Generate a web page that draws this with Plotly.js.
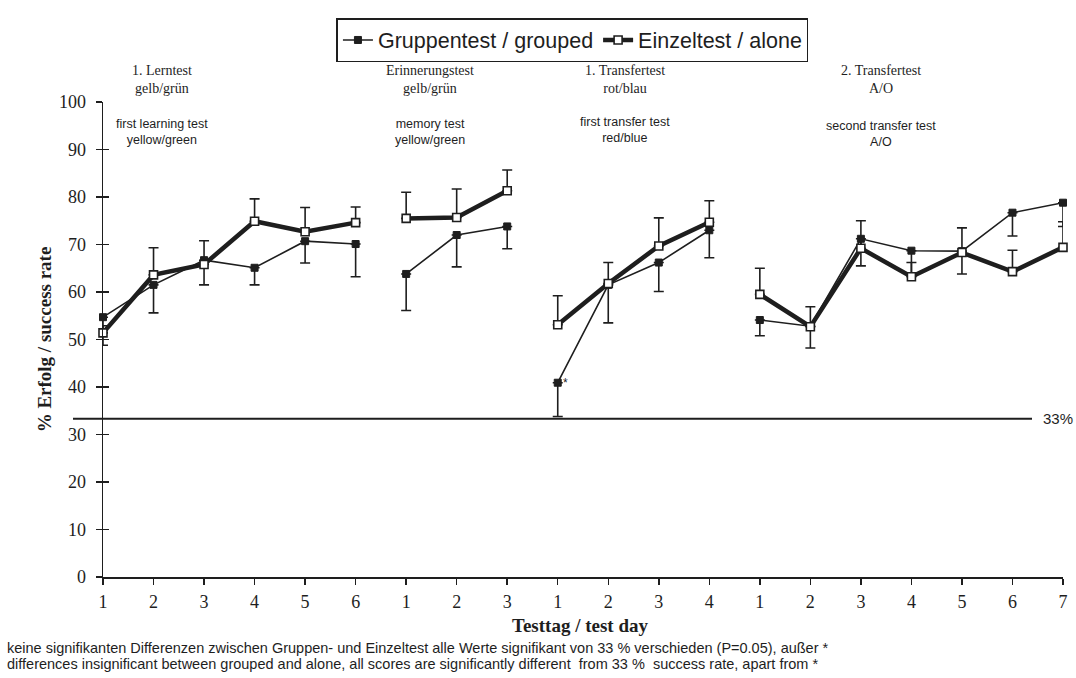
<!DOCTYPE html>
<html>
<head>
<meta charset="utf-8">
<script src="https://cdn.plot.ly/plotly-3.0.1.min.js"></script>
<style>html,body{margin:0;padding:0;background:#fff;}#chart{width:1076px;height:678px;}</style>
</head>
<body>
<div id="chart"></div>
<script>
// ---- data ----
const dayLabels = ['1','2','3','4','5','6','1','2','3','1','2','3','4','1','2','3','4','5','6','7'];
const segmentLengths = [6, 3, 4, 7];
const groupedVals      = [54.7,61.5,66.7,65.1,70.7,70.1, 63.8,72.0,73.8, 40.9,61.5,66.2,73.0, 54.1,52.8,71.2,68.7,68.6,76.7,78.8];
const groupedErrMinus  = [5.9,5.9,5.2,3.6,4.6,6.9, 7.7,6.7,4.7, 7.1,8.0,6.1,5.8, 3.3,4.6,5.7,5.2,4.8,4.9,5.0];
const aloneVals        = [51.4,63.6,65.8,74.9,72.7,74.6, 75.5,75.7,81.3, 53.1,61.8,69.7,74.7, 59.5,52.7,69.2,63.2,68.3,64.3,69.4];
const aloneErrPlus     = [1.5,5.7,5.0,4.7,5.1,3.3, 5.5,6.0,4.4, 6.1,4.4,5.9,4.5, 5.5,4.2,5.8,3.0,5.2,4.5,5.4];
const chanceLevel = 33.3;
const significanceMarked = [9]; // index of value not significantly different from 33 %
const seriesNames = ['Gruppentest / grouped', 'Einzeltest / alone'];
const blockTitlesDe = ['1. Lerntest<br>gelb/grün', 'Erinnerungstest<br>gelb/grün', '1. Transfertest<br>rot/blau', '2. Transfertest<br>A/O'];
const blockTitlesEn = ['first learning test<br>yellow/green', 'memory test<br>yellow/green', 'first transfer test<br>red/blue', 'second transfer test<br>A/O'];
const footnoteLines = [
  'keine signifikanten Differenzen zwischen Gruppen- und Einzeltest alle Werte signifikant von 33 % verschieden (P=0.05), außer *',
  'differences insignificant between grouped and alone, all scores are significantly different  from 33 %  success rate, apart from *'
];

// ---- build gapped arrays (break line between test blocks) ----
function gapped(arr) {
  const out = []; let k = 0;
  segmentLengths.forEach((len, s) => {
    if (s > 0) out.push(null);
    for (let i = 0; i < len; i++) out.push(arr[k++]);
  });
  return out;
}
const idx = dayLabels.map((_, i) => i);
const xG = gapped(idx);
const zeros = groupedVals.map(() => 0);

const ink = '#1e1e1e';
const traces = [
  {
    x: xG, y: gapped(groupedVals), name: seriesNames[0], type: 'scatter', mode: 'lines+markers',
    line: {color: ink, width: 1.6},
    marker: {symbol: 'square', size: 7, color: ink, line: {color: ink, width: 1}},
    error_y: {type: 'data', symmetric: false, array: gapped(zeros), arrayminus: gapped(groupedErrMinus), color: ink, thickness: 1.6, width: 5},
    connectgaps: false, cliponaxis: false
  },
  {
    x: xG, y: gapped(aloneVals), name: seriesNames[1], type: 'scatter', mode: 'lines+markers',
    line: {color: ink, width: 4.5},
    marker: {symbol: 'square', size: 8, color: '#ffffff', line: {color: ink, width: 1.6}},
    error_y: {type: 'data', symmetric: false, array: gapped(aloneErrPlus), arrayminus: gapped(zeros), color: ink, thickness: 1.6, width: 5},
    connectgaps: false, cliponaxis: false
  },
  {x: [null], y: [null], xaxis: 'x', yaxis: 'y2', mode: 'markers', marker: {opacity: 0}, showlegend: false, hoverinfo: 'skip', type: 'scatter'}
];

// ---- annotations ----
const blockX = [1.17, 6.48, 10.34, 15.39];
const annotations = [];
blockTitlesDe.forEach((t, i) => annotations.push({
  text: t, xref: 'x', x: blockX[i], yref: 'paper', y: (577 - 79) / 475, showarrow: false,
  xanchor: 'center', yanchor: 'middle', font: {family: 'Liberation Serif, Times New Roman, serif', size: 14, color: ink}
}));
blockTitlesEn.forEach((t, i) => annotations.push({
  text: t, xref: 'x', x: blockX[i], yref: 'paper', y: (577 - [132,132,130,134][i]) / 475, showarrow: false,
  xanchor: 'center', yanchor: 'middle', font: {family: 'Liberation Sans, Arial, sans-serif', size: 12.5, color: ink}
}));
significanceMarked.forEach(i => annotations.push({
  text: '*', x: i, y: groupedVals[i], xref: 'x', yref: 'y', showarrow: false, xshift: 8, yshift: 0,
  font: {family: 'Liberation Sans, Arial, sans-serif', size: 12, color: ink}
}));
annotations.push({
  text: Math.round(chanceLevel) + '%', xref: 'paper', x: 1.0, yref: 'y', y: chanceLevel, xanchor: 'center', yanchor: 'middle',
  xshift: -5, showarrow: false, font: {family: 'Liberation Sans Narrow, Liberation Sans, Arial, sans-serif', size: 15, color: ink}
});
footnoteLines.forEach((t, i) => annotations.push({
  text: t, xref: 'paper', x: -98 / 960, xanchor: 'left', yref: 'paper', y: (577 - [648, 664][i]) / 475, yanchor: 'middle',
  align: 'left', showarrow: false, font: {family: 'Liberation Sans, Arial, sans-serif', size: 14.5, color: ink}
}));

const tickFont = {family: 'Liberation Serif, Times New Roman, serif', size: 18, color: ink};
const layout = {
  width: 1076, height: 678,
  margin: {l: 103, r: 13, t: 102, b: 101, autoexpand: false},
  paper_bgcolor: '#ffffff', plot_bgcolor: '#ffffff',
  showlegend: true,
  legend: {
    orientation: 'h', x: 0.489, xanchor: 'center', y: (577 - 18) / 475, yanchor: 'top',
    bordercolor: ink, borderwidth: 1.5, bgcolor: '#ffffff',
    font: {family: 'Liberation Sans, Arial, sans-serif', size: 21.5, color: ink},
    itemwidth: 30, tracegroupgap: 0
  },
  xaxis: {
    range: [0, 19], tickmode: 'array', tickvals: idx, ticktext: dayLabels,
    showline: true, linecolor: ink, linewidth: 1.5, ticks: 'outside', ticklen: 6, tickwidth: 1.5, tickcolor: ink,
    showgrid: false, zeroline: false, tickfont: tickFont, ticklabelstandoff: 2
  },
  yaxis: {
    range: [0, 100], dtick: 10, tick0: 0,
    showline: true, linecolor: ink, linewidth: 1.5, ticks: 'outside', ticklen: 6, tickwidth: 1.5, tickcolor: ink,
    showgrid: false, zeroline: false, tickfont: tickFont, ticklabelstandoff: 6,
    title: {text: '<b>% Erfolg / success rate</b>', font: {family: 'Liberation Serif, Times New Roman, serif', size: 19, color: ink}, standoff: 2}
  },
  yaxis2: {
    range: [0, 100], dtick: 10, tick0: 0, overlaying: 'y', side: 'left', anchor: 'x',
    showline: false, ticks: 'inside', ticklen: 6, tickwidth: 1.5, tickcolor: ink,
    showgrid: false, zeroline: false, showticklabels: false
  },
  shapes: [{
    type: 'line', xref: 'paper', x0: -30 / 960, x1: 929 / 960, yref: 'y', y0: chanceLevel, y1: chanceLevel,
    line: {color: ink, width: 2}, layer: 'above'
  }],
  annotations: annotations.concat([{
    text: '<b>Testtag / test day</b>', xref: 'paper', x: (580 - 103) / 960, xanchor: 'center', yref: 'paper', y: (577 - 625) / 475,
    yanchor: 'middle', showarrow: false, font: {family: 'Liberation Serif, Times New Roman, serif', size: 19, color: ink}
  }])
};

Plotly.newPlot('chart', traces, layout, {staticPlot: true, displayModeBar: false});
</script>
</body>
</html>
